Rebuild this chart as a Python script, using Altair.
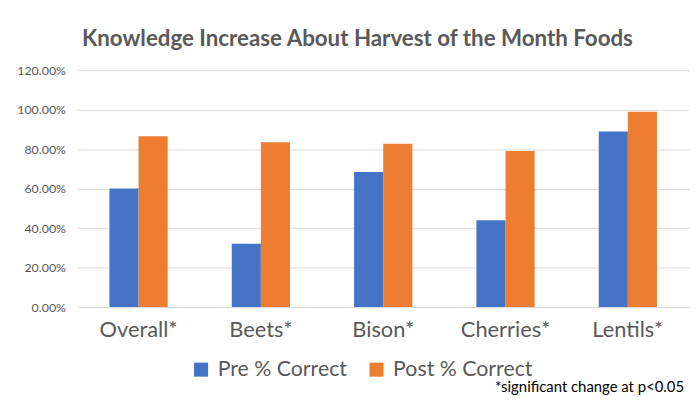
import altair as alt
import pandas as pd

categories = ["Overall*", "Beets*", "Bison*", "Cherries*", "Lentils*"]
pre_values = [0.601, 0.321, 0.684, 0.440, 0.889]
post_values = [0.865, 0.835, 0.827, 0.790, 0.989]
series_names = ["Pre % Correct", "Post % Correct"]
series_colors = ["#4472C4", "#ED7D31"]
title_text = "Knowledge Increase About Harvest of the Month Foods"
footnote_text = "*significant change at p<0.05"
y_ticks = [0, 0.2, 0.4, 0.6, 0.8, 1.0, 1.2]

rows = []
for c, a, b in zip(categories, pre_values, post_values):
    rows.append({"category": c, "series": series_names[0], "value": a})
    rows.append({"category": c, "series": series_names[1], "value": b})
df = pd.DataFrame(rows)

FONT = "Lato"
GREY = "#595959"

bars = alt.Chart(df).mark_bar().encode(
    x=alt.X("category:N", sort=categories,
            scale=alt.Scale(paddingInner=0.524, paddingOuter=0.262),
            axis=alt.Axis(title=None, labelAngle=0, labelFontSize=22, labelColor=GREY,
                          labelFont=FONT, labelPadding=13, ticks=False,
                          domainColor="#d9d9d9", domainWidth=1)),
    xOffset=alt.XOffset("series:N", sort=series_names,
                        scale=alt.Scale(paddingInner=0, paddingOuter=0)),
    y=alt.Y("value:Q", scale=alt.Scale(domain=[0, 1.2]),
            axis=alt.Axis(title=None, values=y_ticks, format=".2%", labelFontSize=12.5,
                          labelColor=GREY, labelFont=FONT, labelPadding=12, ticks=False,
                          domain=False, gridColor="#d9d9d9", gridWidth=1)),
    color=alt.Color("series:N", sort=series_names,
                    scale=alt.Scale(domain=series_names, range=series_colors),
                    legend=alt.Legend(title=None, orient="none", direction="horizontal",
                                      legendX=114, legendY=291, symbolType="square",
                                      symbolSize=200, symbolStrokeWidth=0,
                                      labelFontSize=21.5, labelColor=GREY, labelFont=FONT,
                                      columnPadding=18, labelOffset=6, padding=0)),
)

foot = alt.Chart(pd.DataFrame({"t": [footnote_text]})).mark_text(
    align="right", baseline="middle", fontSize=15, font=FONT, color="black"
).encode(text="t:N", x=alt.value(612), y=alt.value(320))

chart = alt.layer(bars, foot).properties(
    width=617, height=239,
    title=alt.TitleParams(title_text, fontSize=22.5, font=FONT, fontWeight="bold",
                          color=GREY, anchor="middle", dx=-26, offset=14),
    autosize=alt.AutoSizeParams(type="none"),
    padding={"left": 70, "top": 61, "right": 2, "bottom": 88},
).configure_view(stroke=None)

chart.save("out.html", embed_options={"renderer": "svg", "actions": False})
